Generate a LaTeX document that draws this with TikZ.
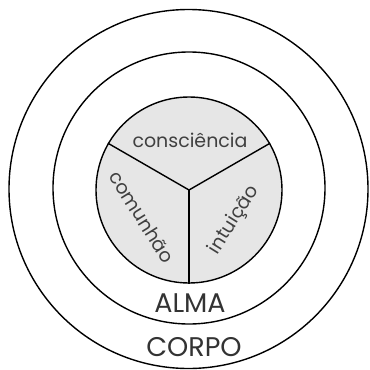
\documentclass[tikz,border=0pt]{standalone}
\usepackage{fontspec}
\setmainfont{Poppins}
\definecolor{soulgray}{HTML}{E6E6E6}
\tikzset{
  ring/.style={draw=black, line width=1.4pt},
  divider/.style={draw=black, line width=1.4pt},
  small/.style={font=\fontsize{19}{20}\selectfont, text=black!75, inner sep=0pt},
  big/.style={font=\fontsize{27}{28}\selectfont, text=black!80, inner sep=0pt}
}
\begin{document}
\begin{tikzpicture}[x=1pt,y=-1pt]
\useasboundingbox (0,0) rectangle (370,370);
\node[ring, circle, minimum size=359pt, inner sep=0pt] (corpo) at (188.5,189) {};
\node[ring, circle, minimum size=272pt, inner sep=0pt] (alma) at (189,188) {};
\node[ring, circle, fill=soulgray, minimum size=186pt, inner sep=0pt] (espirito) at (189,190) {};
\coordinate (j) at (189,190);
\draw[divider] (j) -- (espirito.150);
\draw[divider] (j) -- (espirito.30);
\draw[divider] (j) -- (espirito.270);
\node[small] (consc) at (190,140) {consciência};
\node[small, rotate=-58] (comun) at (142,217) {comunhão};
\node[small, rotate=58] (intui) at (234,220) {intuição};
\node[big] (almat) at (190,303) {ALMA};
\node[big] (corpot) at (194,347) {CORPO};
\end{tikzpicture}
\end{document}
